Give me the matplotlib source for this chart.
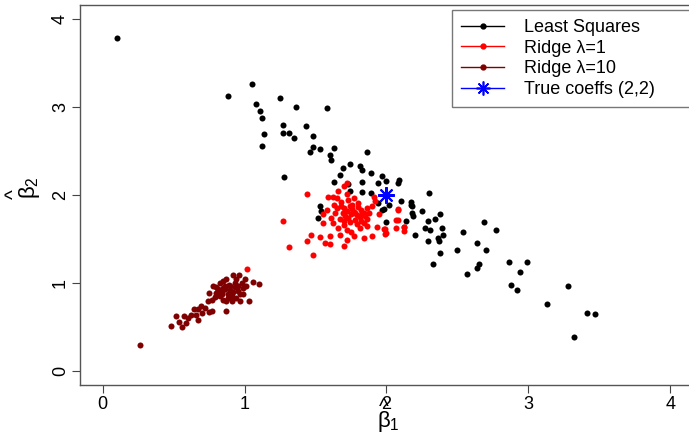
import matplotlib
matplotlib.use("Agg")
import matplotlib.pyplot as plt
from matplotlib.lines import Line2D

plt.rcParams['font.family'] = ['Liberation Sans', 'DejaVu Sans']
plt.rcParams['mathtext.fontset'] = 'custom'
plt.rcParams['mathtext.rm'] = 'Liberation Sans'
plt.rcParams['mathtext.it'] = 'Liberation Sans'

# least squares estimates (beta1, beta2)
ls_b1 = [0.10, 0.88, 1.05, 1.08, 1.11, 1.12, 1.14, 1.12, 1.25, 1.27, 1.27, 1.31, 1.35, 1.36,
         1.28, 1.43, 1.48, 1.58, 1.48, 1.46, 1.53, 1.63, 1.60, 1.61, 1.69, 1.67, 1.74, 1.86,
         1.81, 1.83, 1.89, 1.63, 1.73, 1.83, 1.94, 1.97, 1.74, 1.83, 1.89, 2.08, 2.09, 1.94,
         2.02, 1.97, 2.10, 2.17, 2.18, 2.19, 1.53, 1.54, 1.52, 2.00, 2.14, 2.20, 2.00, 2.30,
         2.17, 2.18, 1.98, 2.25, 2.34, 2.38, 2.29, 2.27, 2.39, 2.31, 2.40, 2.29, 2.36, 2.37,
         2.54, 2.38, 2.50, 2.69, 2.77, 2.64, 2.70, 2.33, 2.65, 2.64, 2.57, 2.86, 2.99, 2.94,
         2.88, 2.92, 3.28, 3.13, 3.41, 3.47, 3.32]
ls_b2 = [3.79, 3.13, 3.26, 3.03, 2.95, 2.87, 2.69, 2.56, 3.10, 2.80, 2.70, 2.70, 2.65, 3.00,
         2.21, 2.78, 2.67, 2.99, 2.55, 2.49, 2.52, 2.54, 2.45, 2.40, 2.31, 2.23, 2.35, 2.49,
         2.33, 2.28, 2.25, 2.15, 2.12, 2.15, 2.14, 2.22, 2.04, 2.03, 2.02, 2.14, 2.17, 1.91,
         1.89, 1.83, 1.93, 1.89, 1.80, 1.76, 1.87, 1.82, 1.74, 1.69, 1.70, 1.54, 2.16, 2.02,
         1.92, 1.88, 1.84, 1.82, 1.73, 1.78, 1.70, 1.62, 1.62, 1.60, 1.55, 1.48, 1.51, 1.48,
         1.58, 1.34, 1.37, 1.69, 1.60, 1.46, 1.38, 1.22, 1.22, 1.17, 1.10, 1.24, 1.24, 1.12,
         0.98, 0.92, 0.97, 0.76, 0.66, 0.65, 0.39]

# ridge, lambda = 1
r1_b1 = [1.72, 1.70, 1.66, 1.44, 1.59, 1.62, 1.65, 1.72, 1.73, 1.77, 1.91, 1.92, 2.08, 2.07,
         2.12, 1.58, 1.55, 1.61, 1.55, 1.62, 1.70, 1.86, 1.93, 1.99, 2.00, 1.90, 1.84, 1.77,
         1.72, 1.67, 1.60, 1.53, 1.47, 1.44, 1.57, 1.60, 1.70, 1.31, 1.48, 1.02, 1.27, 2.08,
         2.08, 2.07, 2.12, 2.12, 1.98, 1.99, 1.95, 1.68, 1.70, 1.72, 1.74, 1.76, 1.78, 1.80,
         1.82, 1.84, 1.86, 1.69, 1.71, 1.73, 1.75, 1.77, 1.79, 1.81, 1.83, 1.85, 1.67, 1.70,
         1.74, 1.78, 1.82, 1.86, 1.65, 1.64, 1.88, 1.90, 1.80, 1.76, 1.68, 1.63, 1.79, 1.84,
         1.72, 1.81, 1.75, 1.66]
r1_b2 = [2.14, 2.10, 2.04, 2.01, 1.98, 1.98, 1.97, 2.01, 1.94, 1.97, 1.98, 1.93, 1.84, 1.72,
         1.64, 1.83, 1.78, 1.74, 1.68, 1.68, 1.66, 1.65, 1.64, 1.61, 1.57, 1.53, 1.51, 1.53,
         1.49, 1.54, 1.53, 1.52, 1.55, 1.48, 1.45, 1.44, 1.42, 1.41, 1.32, 1.16, 1.71, 1.83,
         1.72, 1.63, 1.64, 1.59, 1.61, 1.56, 1.78, 1.88, 1.85, 1.82, 1.87, 1.84, 1.80, 1.86,
         1.83, 1.79, 1.85, 1.79, 1.76, 1.74, 1.78, 1.81, 1.77, 1.75, 1.80, 1.76, 1.73, 1.70,
         1.69, 1.72, 1.71, 1.73, 1.85, 1.80, 1.80, 1.88, 1.91, 1.89, 1.92, 1.89, 1.67, 1.68,
         1.60, 1.62, 1.58, 1.63]

# ridge, lambda = 10
r10_b1 = [0.26, 0.48, 0.52, 0.54, 0.56, 0.59, 0.62, 0.64, 0.67, 0.66, 0.70, 0.67, 0.75,
          0.77, 0.74, 0.77, 0.78, 0.75, 0.80, 0.81, 0.83, 0.85, 0.87, 0.83, 0.85, 0.87, 0.87,
          0.90, 0.92, 0.93, 0.91, 0.94, 0.97, 0.92, 0.96, 0.94, 0.98, 0.99, 1.00, 1.01, 1.03,
          1.06, 1.10, 0.97, 0.82, 0.84, 0.86, 0.88, 0.89, 0.90, 0.86, 0.88, 0.79, 0.81, 0.95,
          0.93, 0.89, 0.84, 0.91, 0.72, 0.69, 0.60, 0.57, 0.99, 0.80, 0.85, 0.95]
r10_b2 = [0.29, 0.51, 0.63, 0.56, 0.50, 0.55, 0.64, 0.70, 0.70, 0.64, 0.66, 0.58, 0.67,
          0.68, 0.79, 0.81, 0.96, 0.89, 0.89, 0.92, 1.00, 1.02, 1.04, 0.85, 0.81, 0.79, 0.68,
          0.96, 0.90, 1.00, 0.85, 0.83, 0.87, 1.09, 1.09, 1.04, 1.00, 0.94, 1.04, 0.96, 0.79,
          1.01, 0.99, 0.79, 0.86, 0.90, 0.93, 0.88, 0.84, 0.92, 0.97, 0.83, 0.84, 0.93, 0.91,
          0.95, 0.98, 0.87, 0.80, 0.72, 0.74, 0.60, 0.62, 0.88, 0.95, 0.94, 0.97]

true_b = (2, 2)

W, H = 689, 432
fig = plt.figure(figsize=(6.89, 4.32), dpi=100)
ax = fig.add_axes([80 / W, 47 / H, 613 / W, 380 / H])

ax.scatter(ls_b1, ls_b2, s=19, color='black', linewidths=0)
ax.scatter(r1_b1, r1_b2, s=19, color='red', linewidths=0)
ax.scatter(r10_b1, r10_b2, s=19, color='#7f0000', linewidths=0)
ax.plot([true_b[0]], [true_b[1]], marker=(8, 2, 0), markersize=12, mew=1.5,
        color='blue', linestyle='none')

ax.set_xlim(-0.16, 4.16)
ax.set_ylim(-0.16, 4.16)
ax.set_xticks([0, 1, 2, 3, 4])
ax.set_yticks([0, 1, 2, 3, 4])
ax.tick_params(labelsize=13, length=6, width=0.8, color='#444444', pad=2)
for lab in ax.get_yticklabels():
    lab.set_rotation(90)
    lab.set_va('center')
for sp in ax.spines.values():
    sp.set_color('#555555')
    sp.set_linewidth(1.0)
ax.spines['right'].set_visible(False)

# axis labels drawn R-style: hat placed apart from the beta
fig.text(384 / W, 1 - 407 / H, '^', fontsize=15, ha='center', va='center')
fig.text(388 / W, 1 - 421 / H, r'$\beta_1$', fontsize=16, ha='center', va='center')
fig.text(14 / W, 1 - 194 / H, '^', fontsize=15, ha='center', va='center', rotation=90)
fig.text(29 / W, 1 - 188 / H, r'$\beta_2$', fontsize=16, ha='center', va='center',
         rotation=90)

handles = [
    Line2D([], [], color='black', marker='.', markersize=7, lw=1),
    Line2D([], [], color='red', marker='.', markersize=7, lw=1),
    Line2D([], [], color='#7f0000', marker='.', markersize=7, lw=1),
    Line2D([], [], color='blue', marker=(8, 2, 0), markersize=10, mew=1.2, lw=1),
]
labels = ['Least Squares', 'Ridge λ=1', 'Ridge λ=10', 'True coeffs (2,2)']
x0 = (452 - 80) / 613
leg = ax.legend(handles, labels, loc='upper left', fontsize=13, frameon=True,
                fancybox=False, borderaxespad=0, handlelength=2.4, labelspacing=0.2,
                handletextpad=1.1, borderpad=0.5, mode='expand',
                bbox_to_anchor=(x0, 0, 1.03 - x0, 0.9868))
leg.get_frame().set_edgecolor('#555555')
leg.get_frame().set_linewidth(1.0)

fig.savefig('out.png', dpi=100)
